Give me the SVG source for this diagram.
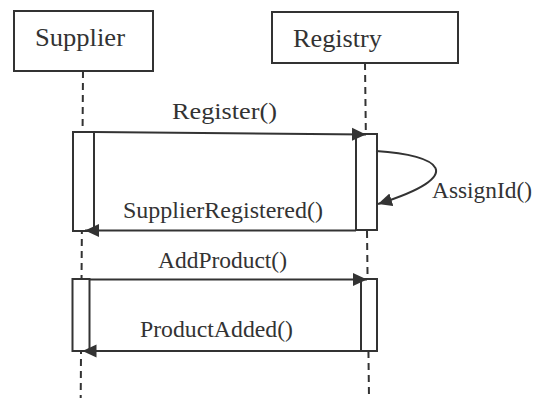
<svg xmlns="http://www.w3.org/2000/svg" width="542" height="398" viewBox="0 0 542 398">
  <style>
    .box { fill: #fff; stroke: #333; stroke-width: 2; }
    .act { fill: #fff; stroke: #333; stroke-width: 2; }
    .life { fill: none; stroke: #333; stroke-width: 2; stroke-dasharray: 7 5; }
    .msg { fill: none; stroke: #333; stroke-width: 2; }
    .title { font-family: "Liberation Serif", "Times New Roman", serif; font-size: 26px; fill: #333; }
    .label { font-family: "Liberation Serif", "Times New Roman", serif; font-size: 24px; fill: #333; }
  </style>
  <defs>
    <marker id="arrow" markerUnits="userSpaceOnUse" markerWidth="16" markerHeight="14" refX="14" refY="7" orient="auto">
      <path d="M0,0.5 L14,7 L0,13.5 Z" fill="#333"/>
    </marker>
  </defs>
  <rect width="542" height="398" fill="#fff"/>

  <!-- lifelines -->
  <g id="lifelines">
    <line class="life" x1="83" y1="71" x2="80.7" y2="398"/>
    <line class="life" x1="365" y1="63" x2="369" y2="398"/>
  </g>

  <g id="supplier">
    <rect class="box" x="14" y="11" width="139" height="60"/>
    <text class="title" x="35" y="46" textLength="90" lengthAdjust="spacingAndGlyphs">Supplier</text>
  </g>

  <g id="registry">
    <rect class="box" x="272" y="12" width="186" height="51"/>
    <text class="title" x="293" y="47" textLength="89" lengthAdjust="spacingAndGlyphs">Registry</text>
  </g>

  <!-- activation bars -->
  <g id="supplier-activation-1"><rect class="act" x="73" y="132" width="21" height="99"/></g>
  <g id="registry-activation-1"><rect class="act" x="356" y="134" width="21" height="96"/></g>
  <g id="supplier-activation-2"><rect class="act" x="72.5" y="279" width="17" height="72"/></g>
  <g id="registry-activation-2"><rect class="act" x="361" y="279" width="16" height="72"/></g>

  <!-- messages -->
  <g id="connectors">
    <line class="msg" x1="94" y1="132" x2="366" y2="134.5" marker-end="url(#arrow)"/>
    <text class="label" x="172" y="119" textLength="105" lengthAdjust="spacingAndGlyphs">Register()</text>

    <path class="msg" d="M376,151 C440,155 470,175 378,204" marker-end="url(#arrow)"/>
    <text class="label" x="432" y="198" textLength="100" lengthAdjust="spacingAndGlyphs">AssignId()</text>

    <line class="msg" x1="356" y1="230.5" x2="85" y2="230.5" marker-end="url(#arrow)"/>
    <text class="label" x="123" y="218" textLength="200" lengthAdjust="spacingAndGlyphs">SupplierRegistered()</text>

    <line class="msg" x1="89.5" y1="279.5" x2="367" y2="279.5" marker-end="url(#arrow)"/>
    <text class="label" x="158" y="268" textLength="129" lengthAdjust="spacingAndGlyphs">AddProduct()</text>

    <line class="msg" x1="361" y1="351" x2="82.5" y2="351" marker-end="url(#arrow)"/>
    <text class="label" x="140" y="337" textLength="153" lengthAdjust="spacingAndGlyphs">ProductAdded()</text>
  </g>
</svg>
